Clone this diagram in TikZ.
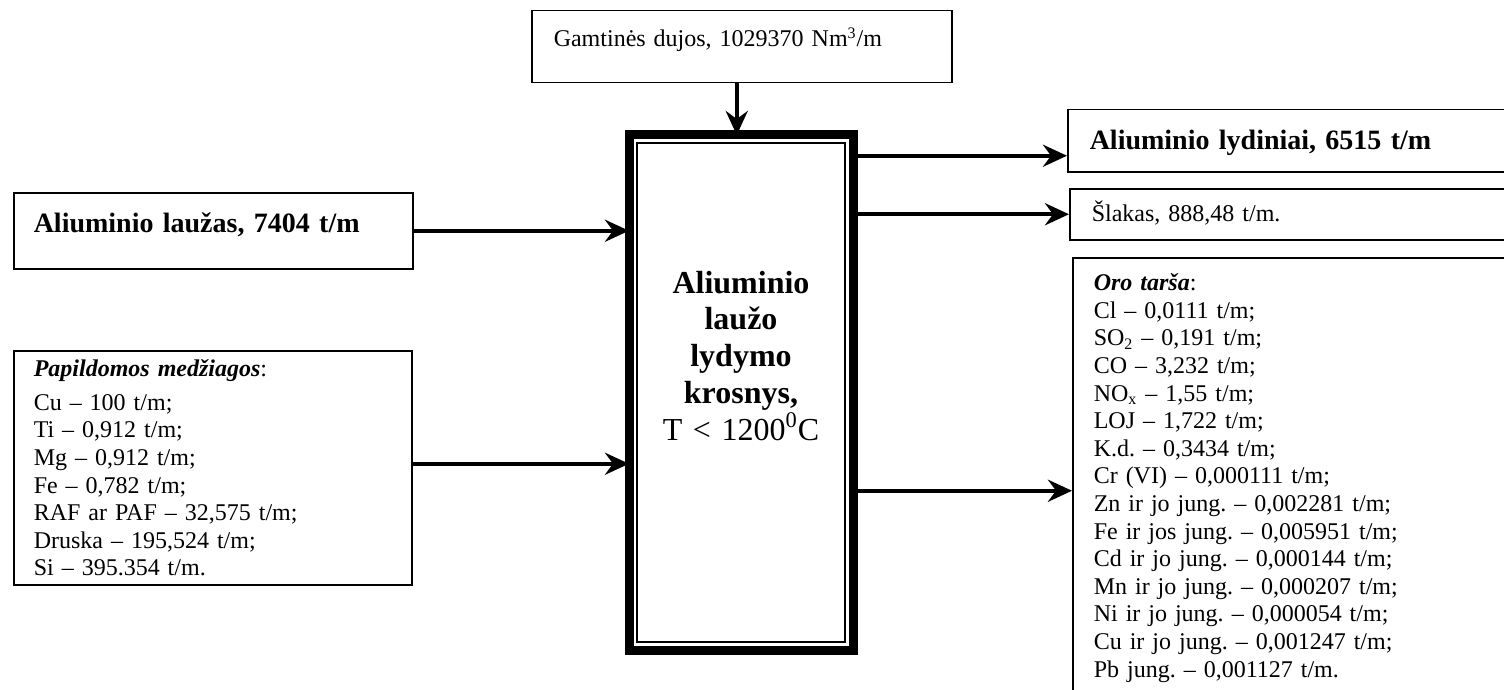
\documentclass[tikz,border=0pt]{standalone}
\usepackage{fontspec}
\setmainfont{Liberation Serif}
\usepackage{tikz}
\usetikzlibrary{arrows.meta}
\frenchspacing

\newcommand{\bodysize}{\fontsize{12}{13.8}\selectfont}
\newcommand{\headsize}{\fontsize{14}{16.1}\selectfont\bfseries}
\newcommand{\ovensize}{\fontsize{16}{18.4}\selectfont}

\tikzset{
    box/.style={draw, line width=0.75pt, anchor=north west, inner ysep=0pt,
                align=left, font=\bodysize},
    flow/.style={line width=2pt, -{Stealth[length=12pt, width=11pt, inset=4pt]}},
}

\begin{document}
\begin{tikzpicture}[x=0.5pt, y=-0.5pt]
    \useasboundingbox (0,0) rectangle (1504,690);
    \clip (0,0) rectangle (1504,690);

    % inputs
    \node[box, inner xsep=11pt, text width=188pt, text height=18pt, text depth=18pt]
        (gas) at (531,10) {Gamtinės dujos, 1029370 Nm\textsuperscript{3}/m};
    \node[box, font=\headsize, inner xsep=10pt, text width=179.5pt,
          text height=20pt, text depth=18pt]
        (lauzas) at (13,192) {Aliuminio laužas, 7404 t/m};
    \node[box, inner xsep=10pt, text width=179pt, text height=13pt, text depth=104pt]
        (priedai) at (13,350) {%
      \textbf{\textit{Papildomos medžiagos}}:\\[3pt]
      Cu -- 100 t/m;\\
      Ti -- 0,912 t/m;\\
      Mg -- 0,912 t/m;\\
      Fe -- 0,782 t/m;\\
      RAF ar PAF -- 32,575 t/m;\\
      Druska -- 195,524 t/m;\\
      Si -- 395.354 t/m.};

    % furnace
    \node[draw, line width=4.5pt, outer sep=0pt, anchor=north west, inner sep=0pt,
          text width=112pt, align=center, font=\ovensize,
          text height=79pt, text depth=178.5pt]
        (furnace) at (629,135) {%
      \textbf{Aliuminio}\\ \textbf{laužo}\\ \textbf{lydymo}\\ \textbf{krosnys,}\\
      T < 1200\textsuperscript{0}C};
    \draw[line width=1.25pt] ([shift={(4pt,-4pt)}]furnace.north west)
        rectangle ([shift={(-4pt,4pt)}]furnace.south east);

    % outputs
    \node[box, font=\headsize, inner xsep=11pt, text width=209.5pt,
          text height=20pt, text depth=11pt]
        (alloy) at (1067,109) {Aliuminio lydiniai, 6515 t/m};
    \node[box, inner xsep=11pt, text width=208.5pt, text height=16.5pt, text depth=9pt]
        (slag) at (1069,188) {Šlakas, 888,48 t/m.};
    \node[box, inner xsep=10.5pt, text width=208pt, text height=16.5pt, text depth=216.5pt]
        (air) at (1072,257) {%
      \textbf{\textit{Oro tarša}}:\\
      Cl -- 0,0111 t/m;\\
      SO\textsubscript{2} -- 0,191 t/m;\\
      CO -- 3,232 t/m;\\
      NO\textsubscript{x} -- 1,55 t/m;\\
      LOJ -- 1,722 t/m;\\
      K.d. -- 0,3434 t/m;\\
      Cr (VI) -- 0,000111 t/m;\\
      Zn ir jo jung. -- 0,002281 t/m;\\
      Fe ir jos jung. -- 0,005951 t/m;\\
      Cd ir jo jung. -- 0,000144 t/m;\\
      Mn ir jo jung. -- 0,000207 t/m;\\
      Ni ir jo jung. -- 0,000054 t/m;\\
      Cu ir jo jung. -- 0,001247 t/m;\\
      Pb jung. -- 0,001127 t/m.};

    % flows
    \draw[flow] ([xshift=-2.5pt]gas.south) -- ([xshift=-2.5pt]gas.south |- furnace.north);
    \draw[flow] (lauzas) -- (lauzas -| furnace.west);
    \draw[flow] ([yshift=2pt]priedai.east) -- ([yshift=2pt]priedai.east -| furnace.west);
    \draw[flow] ([yshift=-7.5pt]alloy.west -| furnace.east) -- ([yshift=-7.5pt]alloy.west);
    \draw[flow] (slag.west -| furnace.east) -- (slag.west);
    \draw[flow] (air.west -| furnace.east) -- (air.west);
\end{tikzpicture}
\end{document}
